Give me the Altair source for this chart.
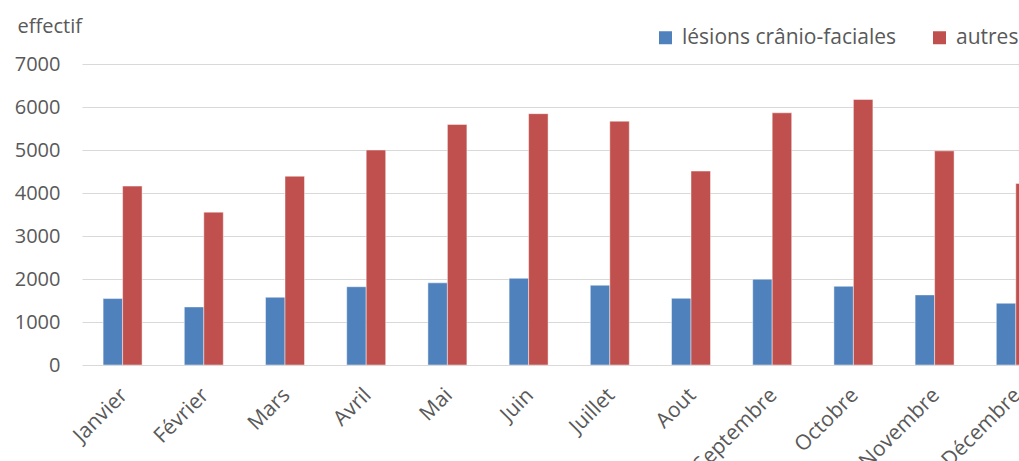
import altair as alt
import pandas as pd

# Monthly counts, two series
mois = ["Janvier", "Février", "Mars", "Avril", "Mai", "Juin", "Juillet",
        "Aout", "Septembre", "Octobre", "Novembre", "Décembre"]
lesions = [1545, 1350, 1575, 1820, 1910, 2015, 1855, 1550, 1995, 1830, 1630, 1435]
autres = [4160, 3555, 4390, 5000, 5595, 5845, 5670, 4510, 5865, 6175, 4980, 4220]
series = ["lésions crânio-faciales", "autres"]
couleurs = ["#4F81BD", "#C0504D"]
graduations = [0, 1000, 2000, 3000, 4000, 5000, 6000, 7000]

rows = []
for i, m in enumerate(mois):
    rows.append({"mois": m, "serie": series[0], "effectif": lesions[i]})
    rows.append({"mois": m, "serie": series[1], "effectif": autres[i]})
df = pd.DataFrame(rows)

FONT = "Open Sans"
TXT = "#595959"
step = 81.2

chart = alt.Chart(df).mark_bar(
    clip=True, stroke="white", strokeOpacity=0.45, strokeWidth=1
).encode(
    x=alt.X(
        "mois:N", sort=mois,
        scale=alt.Scale(range=[0, step * 12], paddingInner=0.52, paddingOuter=0.26),
        axis=alt.Axis(title=None, labelAngle=-45, labelFontSize=21, labelColor=TXT,
                      labelFont=FONT, ticks=False, domain=False, labelPadding=19,
                      labelOffset=-6, labelLimit=0),
    ),
    xOffset=alt.XOffset("serie:N", sort=series,
                        scale=alt.Scale(domain=series, paddingInner=0, paddingOuter=0)),
    y=alt.Y(
        "effectif:Q",
        scale=alt.Scale(domain=[0, 7000], nice=False),
        axis=alt.Axis(values=graduations, format="d", title="effectif", titleAngle=0,
                      titleAlign="left", titleBaseline="alphabetic",
                      titleX=-65, titleY=-32, titleFont=FONT, titleFontSize=20,
                      titleFontWeight="normal", titleColor=TXT,
                      labelFont=FONT, labelFontSize=20, labelColor=TXT,
                      labelPadding=22, ticks=False, domain=False,
                      grid=True, gridColor="#D9D9D9", gridWidth=1),
    ),
    color=alt.Color(
        "serie:N", sort=series,
        scale=alt.Scale(domain=series, range=couleurs),
        legend=alt.Legend(title=None, orient="none", direction="horizontal",
                          legendX=573, legendY=-37, symbolType="square",
                          symbolSize=169, symbolStrokeWidth=0,
                          labelFont=FONT, labelFontSize=21, labelColor=TXT,
                          labelOffset=6, columnPadding=32, labelLimit=0),
    ),
).properties(
    width=937, height=301,
    autosize=alt.AutoSizeParams(type="none"),
    padding={"left": 82, "top": 64, "right": 0, "bottom": 96},
).configure_view(stroke=None)

chart.save("out.html", embed_options={"renderer": "svg", "actions": False})
